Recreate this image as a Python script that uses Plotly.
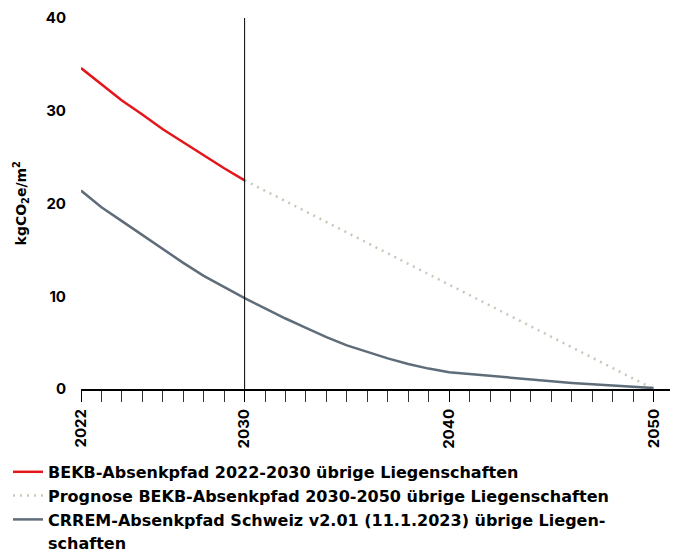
import plotly.graph_objects as go

# Data
years_bekb = [2022, 2023, 2024, 2025, 2026, 2027, 2028, 2029, 2030]
bekb_values = [34.6, 32.8, 31.1, 29.6, 28.0, 26.6, 25.2, 23.8, 22.5]

years_prog = [2030, 2050]
prog_values = [22.5, 0.0]

years_crrem = list(range(2022, 2051))
crrem_values = [21.4, 19.6, 18.1, 16.6, 15.1, 13.6, 12.2, 11.0, 9.8, 8.7,
                7.6, 6.6, 5.6, 4.7, 4.0, 3.3, 2.7, 2.2, 1.8, 1.6,
                1.4, 1.2, 1.0, 0.8, 0.65, 0.5, 0.35, 0.2, 0.1]

x_tick_vals = [2022, 2030, 2040, 2050]
x_tick_text = ["2022", "2030", "2040", "2050"]
y_tick_vals = [0, 10, 20, 30, 40]

names = [
    "BEKB-Absenkpfad 2022-2030 übrige Liegenschaften",
    "Prognose BEKB-Absenkpfad 2030-2050 übrige Liegenschaften",
    "CRREM-Absenkpfad Schweiz v2.01 (11.1.2023) übrige Liegen-",
    "schaften",
]
y_title = "kgCO<sub>2</sub>e/m<sup>2</sup>"

FONT = "Inter"
LEGEND_FONT = "DejaVu Sans"

fig = go.Figure()
fig.add_trace(go.Scatter(x=years_bekb, y=bekb_values, mode="lines", name=names[0],
                         line=dict(color="#e3161b", width=2.5)))
fig.add_trace(go.Scatter(x=years_prog, y=prog_values, mode="lines", name=names[1],
                         line=dict(color="#c3cbb6", width=2.5, dash="2px,5px")))
fig.add_trace(go.Scatter(x=years_crrem, y=crrem_values, mode="lines", name=names[2],
                         line=dict(color="#5f6d7a", width=2.5)))
# continuation line of the third legend label (no mark drawn)
fig.add_trace(go.Scatter(x=[None], y=[None], mode="lines", name=names[3],
                         line=dict(color="rgba(0,0,0,0)", width=0), hoverinfo="skip"))

fig.add_shape(type="line", xref="x", yref="y", x0=2030, x1=2030, y0=0, y1=40,
              line=dict(color="black", width=1), layer="above")

fig.add_annotation(text=y_title, xref="paper", yref="paper", x=-0.102, y=0.5,
                   xanchor="center", yanchor="middle", textangle=-90, showarrow=False,
                   font=dict(family=LEGEND_FONT, size=14, color="black", weight="bold"))

fig.update_layout(
    width=670, height=545,
    margin=dict(l=73, r=8, t=10, b=164, autoexpand=False),
    plot_bgcolor="white", paper_bgcolor="white",
    font=dict(family=FONT, color="black", size=14),
    showlegend=True,
    legend=dict(
        xref="container", yref="container",
        x=0.0, y=0.18, xanchor="left", yanchor="top",
        font=dict(family=LEGEND_FONT, size=16, color="black", weight="bold"),
        itemwidth=30, tracegroupgap=0, traceorder="normal",
        bgcolor="rgba(0,0,0,0)",
    ),
    xaxis=dict(
        range=[2022, 2050.8], showgrid=False, zeroline=False,
        showline=True, linecolor="black", linewidth=2,
        tickmode="array", tickvals=x_tick_vals, ticktext=x_tick_text,
        ticks="outside", ticklen=11, tickwidth=1, tickcolor="black",
        tickangle=-90, ticklabelstandoff=1,
        tickfont=dict(family=FONT, size=15, color="black", weight="bold"),
        minor=dict(dtick=1, tick0=2022, ticks="outside", ticklen=11,
                   tickwidth=1, tickcolor="#333333", showgrid=False),
    ),
    yaxis=dict(
        range=[0, 40], showgrid=False, zeroline=False, showline=False,
        tickmode="array", tickvals=y_tick_vals,
        ticks="", ticklabelstandoff=14,
        tickfont=dict(family=FONT, size=15, color="black", weight="bold"),
    ),
)

fig.write_html("out.html")
